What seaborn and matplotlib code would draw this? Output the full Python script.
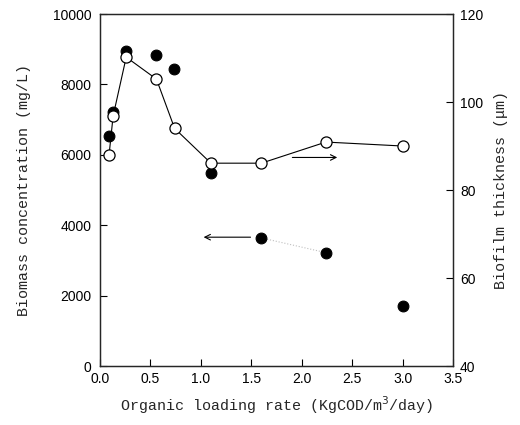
import numpy as np
import pandas as pd
import matplotlib
matplotlib.use("Agg")
import matplotlib.pyplot as plt
import seaborn as sns

# Biomass concentration (filled circles, left axis)
olr_biomass = [0.09, 0.13, 0.26, 0.56, 0.73, 1.10, 1.60, 2.24, 3.00]
biomass = [6530, 7220, 8960, 8840, 8440, 5480, 3640, 3220, 1700]

# Biofilm thickness (open circles, right axis)
olr_film = [0.09, 0.13, 0.26, 0.56, 0.74, 1.10, 1.60, 2.24, 3.00]
thickness = [88.0, 96.8, 110.2, 105.2, 94.0, 86.1, 86.1, 90.9, 90.0]

x_ticks = [0.0, 0.5, 1.0, 1.5, 2.0, 2.5, 3.0, 3.5]
left_ticks = [0, 2000, 4000, 6000, 8000, 10000]
right_ticks = [40, 60, 80, 100, 120]

sns.set_style("ticks")
plt.rcParams["font.family"] = ["Liberation Sans", "DejaVu Sans"]
plt.rcParams["xtick.direction"] = "in"
plt.rcParams["ytick.direction"] = "in"

df_b = pd.DataFrame({"olr": olr_biomass, "biomass": biomass})
df_f = pd.DataFrame({"olr": olr_film, "thickness": thickness})

fig = plt.figure(figsize=(5.2, 4.25), dpi=100)
ax = fig.add_axes([0.1923, 0.1388, 0.6788, 0.8282])
ax2 = ax.twinx()

# faint dotted trace between the last biomass points
ax.plot(olr_biomass[6:8], biomass[6:8], ls=":", color="0.75", lw=0.8)
sns.scatterplot(data=df_b, x="olr", y="biomass", ax=ax, color="black",
                s=60, edgecolor="black", linewidth=0.8, zorder=3, legend=False)

sns.lineplot(data=df_f, x="olr", y="thickness", ax=ax2, color="black",
             lw=0.8, marker="o", markersize=8, markerfacecolor="white",
             markeredgecolor="black", markeredgewidth=0.9, zorder=4)

ax.set_xlim(0, 3.5)
ax.set_ylim(0, 10000)
ax2.set_ylim(40, 120)
ax.set_xticks(x_ticks)
ax.set_yticks(left_ticks)
ax2.set_yticks(right_ticks)
ax.set_xticklabels([f"{t:.1f}" for t in x_ticks])

# arrows pointing to the relevant axis
ax.annotate("", xy=(1.0, 3660), xytext=(1.52, 3660),
            arrowprops=dict(arrowstyle="->", color="black", lw=0.8))
ax2.annotate("", xy=(2.38, 87.4), xytext=(1.88, 87.4),
             arrowprops=dict(arrowstyle="->", color="black", lw=0.8))

label_font = dict(family="Liberation Mono", fontsize=10.8)
ax.set_xlabel("Organic loading rate (KgCOD/m$^3$/day)", labelpad=6, **label_font)
ax.set_ylabel("Biomass concentration (mg/L)", labelpad=16, **label_font)
ax2.set_ylabel("Biofilm thickness (\u03bcm)", labelpad=8, **label_font)

for a in (ax, ax2):
    a.tick_params(labelsize=10, length=5, width=0.8, colors="black")
    for s in a.spines.values():
        s.set_linewidth(0.9)
        s.set_visible(True)
ax.tick_params(axis="x", pad=4)
ax.tick_params(axis="y", pad=6)
ax2.tick_params(axis="y", pad=5)

fig.savefig("out.png", dpi=100)
